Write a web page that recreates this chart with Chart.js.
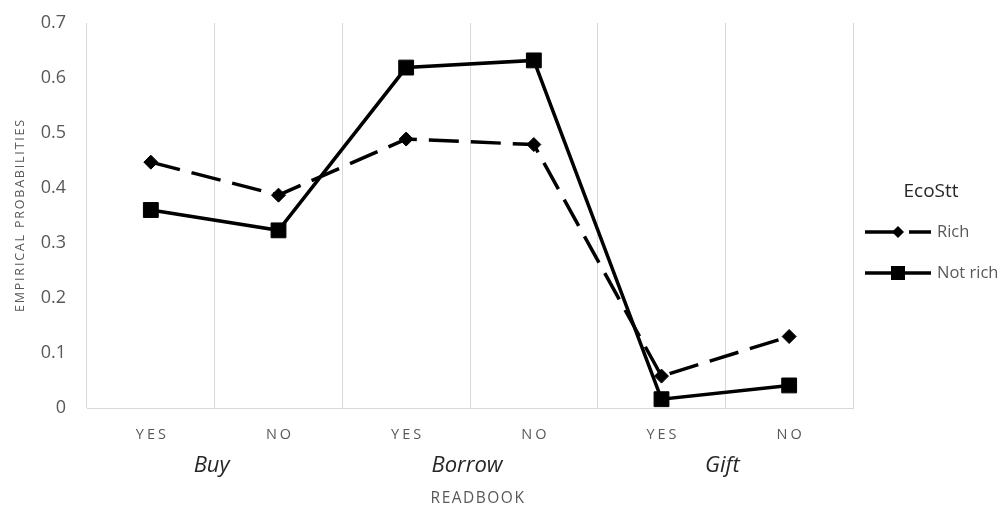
<!DOCTYPE html>
<html>
<head>
<meta charset="utf-8">
<script src="https://cdn.jsdelivr.net/npm/chart.js@4/dist/chart.umd.min.js"></script>
<style>
  html, body { margin: 0; padding: 0; background: #ffffff; }
  #wrap { position: relative; width: 1008px; height: 507px; }
</style>
</head>
<body>
<div id="wrap"><canvas id="c" width="1008" height="507"></canvas></div>
<script>
// Categories: answer (YES/NO) within each reading mode
const answers = ['YES', 'NO', 'YES', 'NO', 'YES', 'NO'];
const groups = ['Buy', 'Borrow', 'Gift'];

// Empirical probabilities per economic status
const richValues = [0.447, 0.387, 0.489, 0.479, 0.058, 0.130];
const notRichValues = [0.360, 0.323, 0.619, 0.632, 0.016, 0.041];

const yTicks = [0, 0.1, 0.2, 0.3, 0.4, 0.5, 0.6, 0.7];

const FONT = '"Open Sans", Lato, sans-serif';
const GREY = '#595959';
const DARK = '#262626';
const RICH_DASH = [30, 12];

// Draws the letter-spaced category labels, the group names, axis titles and legend
const decorations = {
  id: 'decorations',
  afterDraw(chart) {
    const ctx = chart.ctx;
    const x = chart.scales.x;
    ctx.save();
    ctx.fillStyle = GREY;
    ctx.textBaseline = 'middle';
    ctx.textAlign = 'center';
    ctx.font = '14.5px ' + FONT;
    ctx.letterSpacing = '3px';
    answers.forEach((a, i) => {
      ctx.fillText(a, x.getPixelForTick(i) + 1.5, 435);
    });
    ctx.letterSpacing = '0px';

    ctx.fillStyle = DARK;
    ctx.font = 'italic 22px ' + FONT;
    groups.forEach((g, i) => {
      const cx = (x.getPixelForTick(2 * i) + x.getPixelForTick(2 * i + 1)) / 2;
      ctx.fillText(g, cx - 3, 466);
    });

    ctx.fillStyle = GREY;
    ctx.font = '15.5px ' + FONT;
    ctx.letterSpacing = '1.5px';
    ctx.fillText('READBOOK', 478, 499);

    ctx.save();
    ctx.translate(20, 215);
    ctx.rotate(-Math.PI / 2);
    ctx.font = '12.5px ' + FONT;
    ctx.letterSpacing = '1.8px';
    ctx.fillText('EMPIRICAL PROBABILITIES', 0, 0);
    ctx.restore();
    ctx.letterSpacing = '0px';

    // legend
    ctx.fillStyle = DARK;
    ctx.font = '19px ' + FONT;
    ctx.fillText('EcoStt', 931, 192);

    const items = [
      { label: 'Rich', dash: RICH_DASH, shape: 'diamond', y: 232 },
      { label: 'Not rich', dash: [], shape: 'square', y: 273 }
    ];
    items.forEach(it => {
      ctx.save();
      ctx.strokeStyle = '#000';
      ctx.lineWidth = 3.5;
      ctx.setLineDash(it.dash);
      ctx.beginPath();
      ctx.moveTo(865, it.y);
      ctx.lineTo(931, it.y);
      ctx.stroke();
      ctx.setLineDash([]);
      if (it.shape === 'diamond') {
        ctx.clearRect(902, it.y - 3, 7, 6);
      }
      ctx.fillStyle = '#000';
      if (it.shape === 'square') {
        ctx.fillRect(898 - 7, it.y - 7, 14, 14);
      } else {
        ctx.beginPath();
        ctx.moveTo(898, it.y - 6);
        ctx.lineTo(904, it.y);
        ctx.lineTo(898, it.y + 6);
        ctx.lineTo(892, it.y);
        ctx.closePath();
        ctx.fill();
      }
      ctx.restore();
      ctx.fillStyle = GREY;
      ctx.textAlign = 'left';
      ctx.font = '16.5px ' + FONT;
      ctx.fillText(it.label, 937, it.y);
    });
    ctx.restore();
  }
};

new Chart(document.getElementById('c'), {
  type: 'line',
  data: {
    labels: answers.map((a, i) => a + i),
    datasets: [
      {
        label: 'Rich',
        data: richValues,
        borderColor: '#000',
        backgroundColor: '#000',
        borderWidth: 3.5,
        borderDash: RICH_DASH,
        pointStyle: 'rectRot',
        pointRadius: 7,
        pointBorderWidth: 1,
        tension: 0
      },
      {
        label: 'Not rich',
        data: notRichValues,
        borderColor: '#000',
        backgroundColor: '#000',
        borderWidth: 3.5,
        pointStyle: 'rect',
        pointRadius: 10.5,
        pointBorderWidth: 1,
        tension: 0
      }
    ]
  },
  options: {
    responsive: false,
    animation: false,
    layout: { autoPadding: false, padding: { top: 23, right: 155, left: 0, bottom: 0 } },
    plugins: { legend: { display: false }, tooltip: { enabled: false } },
    scales: {
      x: {
        type: 'category',
        offset: true,
        grid: { display: true, offset: true, color: '#d9d9d9', lineWidth: 1, drawTicks: false },
        border: { display: true, color: '#d9d9d9', width: 1 },
        ticks: { display: false },
        afterFit(scale) { scale.height = 99; scale.paddingLeft = 0; scale.paddingRight = 0; }
      },
      y: {
        min: 0,
        max: 0.7,
        afterBuildTicks(scale) { scale.ticks = yTicks.map(v => ({ value: v })); },
        grid: { display: false, drawTicks: false },
        border: { display: false },
        ticks: {
          padding: 21,
          color: GREY,
          font: { family: FONT, size: 18 },
          callback: v => String(Math.round(v * 10) / 10)
        },
        afterFit(scale) { scale.width = 87; scale.paddingTop = 0; scale.paddingBottom = 0; }
      }
    }
  },
  plugins: [decorations]
});
</script>
</body>
</html>
